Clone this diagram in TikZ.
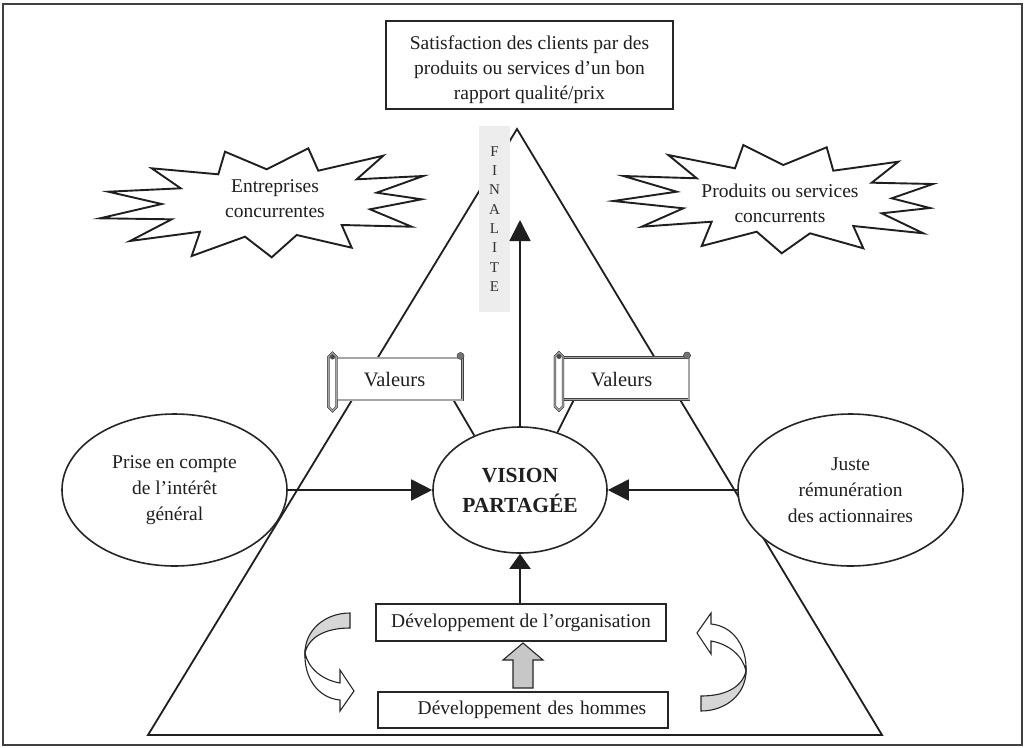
\documentclass[tikz,border=0pt]{standalone}
\usepackage{fontspec}
\setmainfont{Liberation Serif}
\usetikzlibrary{arrows.meta,shapes.geometric}

\tikzset{
  txt/.style={font=\fontsize{19.5}{25}\selectfont, text=black!88, align=center},
  box/.style={draw=black!85, line width=1.4pt, fill=white, inner sep=0pt, txt},
  oval/.style={draw=black!85, line width=1.6pt, ellipse, fill=white, inner sep=0pt, txt},
  edgeline/.style={draw=black!88, line width=1.8pt, line join=miter},
  starline/.style={draw=black!88, line width=1.9pt, line join=miter, fill=white},
  bigarrow/.style={-{Triangle[length=21pt,width=21pt]}, line width=1.8pt, draw=black!88},
  sidearrow/.style={-{Triangle[length=21pt,width=21pt]}, line width=1.8pt, draw=black!88},
  uparrow/.style={-{Triangle[length=15pt,width=21pt]}, line width=1.8pt, draw=black!88},
  scrollline/.style={draw=black!75, double=black!35, double distance=1.1pt, line width=0.6pt, line join=miter},
  arrowline/.style={draw=black!85, line width=1.1pt, line join=miter},
  scroll/.pic={
    \draw[scrollline, fill=white] (-65,-21) rectangle (65,21);
    \draw[scrollline, fill=white] (-69,-22) -- (-69,28) -- (-65,32) -- (-61,28) -- (-61,-22) -- (-65,-26) -- cycle;
    \fill[black!70] (-65,-22) circle (2.5);
    \draw[black!70, fill=black!55] (63,-23) circle (3.5);
    \coordinate (-bl) at (-50,21);
    \coordinate (-br) at (56,21);
  },
  turnarrow/.pic={
    \draw[arrowline, fill=black!16] (20,-49) .. controls (-5,-49) and (-25,-32) .. (-25,-9)
       .. controls (-21,-26) and (-3,-34) .. (20,-34) -- cycle;
    \draw[arrowline, fill=white] (-25,-9) .. controls (-22,6) and (-8,18) .. (10,21)
       -- (10,8) -- (24,29) -- (10,49) -- (10,38)
       .. controls (-12,36) and (-26,16) .. (-25,-9) -- cycle;
  }
}

\begin{document}
\begin{tikzpicture}[x=1pt,y=-1pt]
  \useasboundingbox (0,0) rectangle (1027,747);
  \fill[white] (0,0) rectangle (1027,747);

  % outer frame
  \draw[black!75, line width=1.3pt] (3,4) rectangle (1022,745);

  % pyramid
  \coordinate (apex) at (517,129);
  \coordinate (baseL) at (148,735);
  \coordinate (baseR) at (882,735);
  \draw[edgeline] (baseL) -- (apex) -- (baseR) -- cycle;

  % vertical label band
  \fill[black!7] (479,126) rectangle (510,312);
  \node[font=\fontsize{15}{19.3}\selectfont, text=black!80, align=center, inner sep=0pt] (fin) at (494.5,219)
    {F\\I\\N\\A\\L\\I\\T\\E};

  % top box, text set a little below its middle
  \node[box, minimum width=287pt, minimum height=88pt] (goal) at (529.5,65) {};
  \node[txt, inner sep=0pt, yshift=-5pt] (goaltext) at (goal.center)
    {Satisfaction des clients par des\\produits ou services d'un bon\\rapport qualité/prix};

  % competitor stars
  \draw[starline] (225,151.7) -- (266.7,169.3) -- (308.3,148.3) -- (318.3,170.7) -- (383.3,155.7)
    -- (356.7,179.3) -- (423.3,176) -- (376.7,192.7) -- (421.7,199.3) -- (370,209.3)
    -- (411.7,226.7) -- (341.7,225) -- (351.7,247.7) -- (296.7,235) -- (271.7,257.3)
    -- (245,236.7) -- (191.7,256) -- (200,231.7) -- (130,241) -- (171.7,219.3)
    -- (100,218.3) -- (161.7,204) -- (108.3,191.7) -- (180.7,188.3) -- (151.7,168.3)
    -- (218.3,174.3) -- cycle;
  \node[txt, inner sep=0pt] (starL) at (275,199) {Entreprises\\concurrentes};

  \draw[starline] (743.3,145) -- (783.3,165) -- (826.7,147.3) -- (833.3,170.7) -- (898.3,161.7)
    -- (871.7,182.7) -- (933,184) -- (891.7,198.3) -- (930,208) -- (881.7,213.3)
    -- (923.3,233.3) -- (853.3,226) -- (863.3,248.3) -- (810,233.3) -- (781.7,253.3)
    -- (756.7,231.7) -- (701.7,246) -- (711.7,221.7) -- (641.7,226.7) -- (683.3,208.3)
    -- (613.3,201) -- (676.7,191.7) -- (623.3,176) -- (696.7,178.3) -- (668.3,155)
    -- (735,168.3) -- cycle;
  \node[txt, inner sep=0pt] (starR) at (780,203) {Produits ou services\\concurrents};

  % central vision
  \node[oval, font=\bfseries\fontsize{21.5}{30}\selectfont, minimum width=174pt, minimum height=126pt] (vis) at (520,490)
    {VISION\\PARTAGÉE};

  % side ovals
  \node[oval, font=\fontsize{19.5}{26}\selectfont, minimum width=225pt, minimum height=152pt] (ovL) at (174.5,490)
    {Prise en compte\\de l'intérêt\\général};
  \node[oval, font=\fontsize{19.5}{26}\selectfont, minimum width=225pt, minimum height=152pt] (ovR) at (850.5,490)
    {Juste\\rémunération\\des actionnaires};

  % value scrolls
  \pic (sL) at (397.5,379) {scroll};
  \pic (sR) at (624,378.5) {scroll};
  \draw[edgeline] (sL-br) -- (vis.130);
  \draw[edgeline] (sR-bl) -- (vis.57);
  \pic at (397.5,379) {scroll};
  \pic at (624,378.5) {scroll};
  \node[txt, font=\fontsize{20.5}{24}\selectfont, inner sep=0pt] (vL) at (394.5,380) {Valeurs};
  \node[txt, font=\fontsize{20.5}{24}\selectfont, inner sep=0pt] (vR) at (621.5,380) {Valeurs};

  % development boxes
  \node[box, minimum width=290pt, minimum height=37pt] (org) at (521,622.5) {Développement de l'organisation};
  \node[box, minimum width=290pt, minimum height=36pt, text width=290pt] (men) at (523,710)
    {\hspace*{18pt}Développement des hommes};

  % arrows into the vision
  \coordinate (fintip) at (520,220);
  \draw[bigarrow] (vis.north) -- (fintip);
  \draw[sidearrow] (ovL.east) -- (vis.west);
  \draw[sidearrow] (ovR.west) -- (vis.east);
  \draw[uparrow] (org.north -| vis.south) -- (vis.south);

  % block arrow between the boxes
  \draw[arrowline, fill=black!22] (513,688) -- (513,660) -- (503,660) -- (523,643) -- (543,660)
    -- (533,660) -- (533,688) -- cycle;

  % turning arrows
  \pic at (330,662) {turnarrow};
  \pic[rotate=180] at (721,662) {turnarrow};
\end{tikzpicture}
\end{document}
